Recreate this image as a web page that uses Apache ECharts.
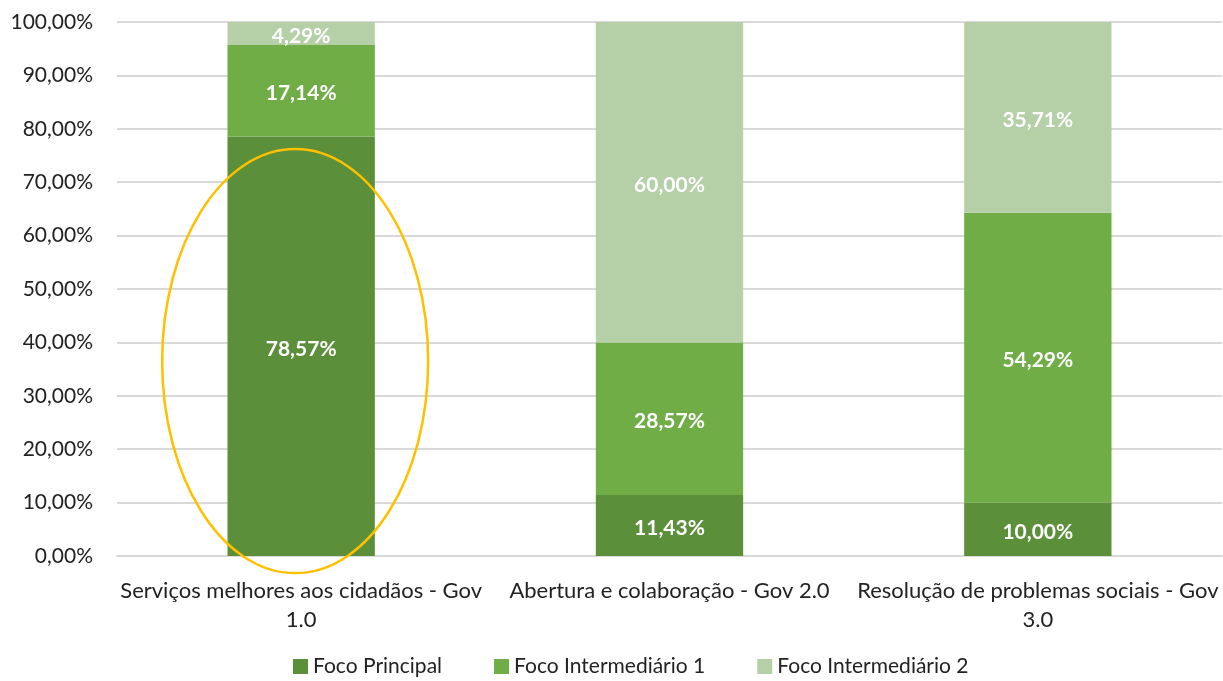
<!DOCTYPE html>
<html>
<head>
<meta charset="utf-8">
<script src="https://cdn.jsdelivr.net/npm/echarts@6/dist/echarts.min.js"></script>
<style>
    html, body { margin: 0; padding: 0; background: #fff; }
    #chart { width: 1223px; height: 681px; }
</style>
</head>
<body>
<div id="chart"></div>
<script>
const categories = [
    "Serviços melhores aos cidadãos - Gov\n1.0",
    "Abertura e colaboração - Gov 2.0",
    "Resolução de problemas sociais - Gov\n3.0",
];
const seriesNames = ["Foco Principal", "Foco Intermediário 1", "Foco Intermediário 2"];
const focoPrincipal = [78.57, 11.43, 10.0];
const focoIntermediario1 = [17.14, 28.57, 54.29];
const focoIntermediario2 = [4.29, 60.0, 35.71];
const colors = ["#5b8f3a", "#70ad47", "#b5cfa7"];

const font = "Lato, 'Open Sans', sans-serif";
const pct = (v) => v.toFixed(2).replace(".", ",") + "%";

const chart_el = document.getElementById("chart");
const chart = echarts.init(chart_el);

const make_series = function (name, data, color) {
    return {
        name: name,
        type: "bar",
        stack: "total",
        barWidth: "40%",
        data: data,
        itemStyle: { color: color },
        label: {
            show: true,
            color: "#fff",
            fontFamily: font,
            fontWeight: "bold",
            fontSize: 21,
            offset: [0, 3],
            formatter: (p) => pct(p.value),
        },
    };
};

chart.setOption({
    textStyle: { fontFamily: font },
    grid: { left: 117, right: 1, top: 22, bottom: 125 },
    legend: {
        bottom: -1,
        left: 288,
        itemWidth: 15,
        itemHeight: 15,
        itemGap: 52,
        icon: "rect",
        textStyle: { fontSize: 21, color: "#222", fontFamily: font },
    },
    xAxis: {
        type: "category",
        data: categories,
        axisLine: { lineStyle: { color: "#d9d9d9", width: 2 } },
        axisTick: { show: false },
        axisLabel: { color: "#222", fontSize: 22, margin: 20, lineHeight: 29, interval: 0 },
    },
    yAxis: {
        type: "value",
        min: 0,
        max: 100,
        interval: 10,
        axisLine: { show: false },
        axisTick: { show: false },
        splitLine: { lineStyle: { color: "#d9d9d9", width: 2 } },
        axisLabel: { color: "#222", fontSize: 21, margin: 24, formatter: (v) => pct(v) },
    },
    series: [
        make_series(seriesNames[0], focoPrincipal, colors[0]),
        make_series(seriesNames[1], focoIntermediario1, colors[1]),
        make_series(seriesNames[2], focoIntermediario2, colors[2]),
    ],
});

// yellow ellipse highlighting the first bar
const c = chart.convertToPixel({ xAxisIndex: 0, yAxisIndex: 0 }, [0, 36.5]);
chart.setOption({
    graphic: [
        {
            type: "ellipse",
            shape: { cx: c[0] - 6, cy: c[1], rx: 133, ry: 212 },
            style: { fill: null, stroke: "#ffc000", lineWidth: 2.5 },
            z: 100,
        },
    ],
});
</script>
</body>
</html>
